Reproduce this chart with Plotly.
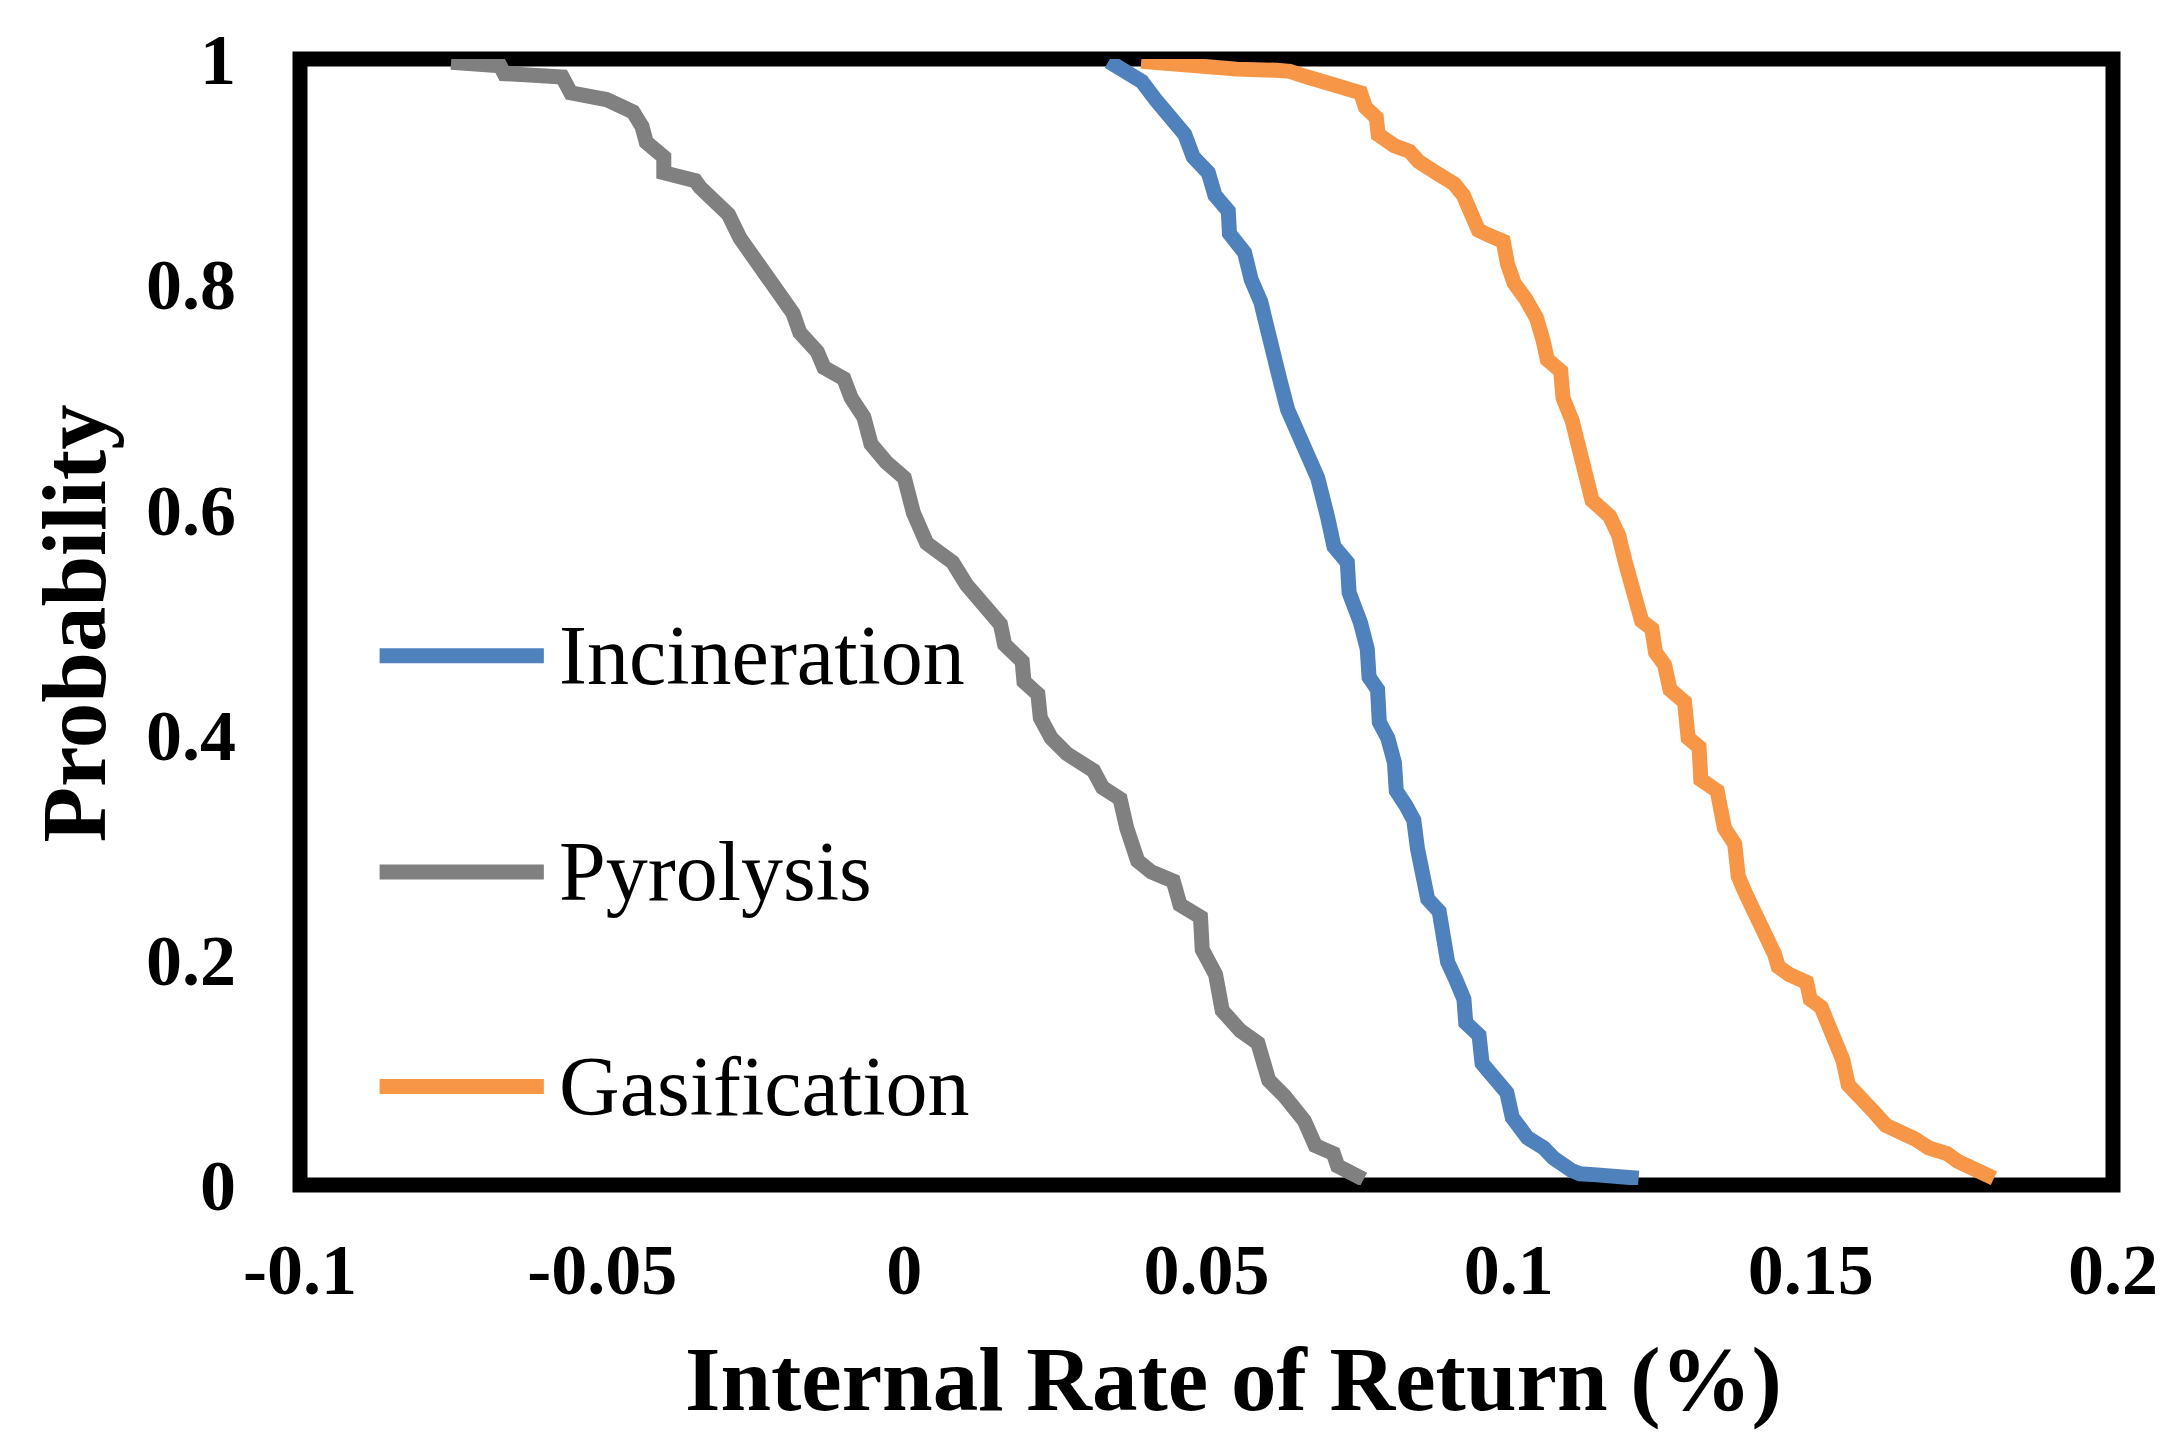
import plotly.graph_objects as go

# ---------------- data ----------------
series_names = ["Incineration", "Pyrolysis", "Gasification"]

incineration_x = [0.0338, 0.0360, 0.0393, 0.0417, 0.0442, 0.0464, 0.0478, 0.0503, 0.0514, 0.0536,
                  0.0538, 0.0563, 0.0574, 0.0590, 0.0599, 0.0613, 0.0621, 0.0634, 0.0651, 0.0668,
                  0.0684, 0.0700, 0.0711, 0.0733, 0.0736, 0.0755, 0.0766, 0.0769, 0.0783, 0.0786,
                  0.0800, 0.0811, 0.0814, 0.0830, 0.0843, 0.0849, 0.0857, 0.0866, 0.0885, 0.0893,
                  0.0899, 0.0912, 0.0926, 0.0929, 0.0951, 0.0956, 0.0976, 0.0997, 0.1006, 0.1031,
                  0.1058, 0.1074, 0.1104, 0.1118, 0.1146, 0.1179, 0.1215]
incineration_y = [0.998, 0.990, 0.980, 0.963, 0.946, 0.933, 0.913, 0.899, 0.879, 0.865,
                  0.845, 0.828, 0.804, 0.784, 0.764, 0.740, 0.716, 0.689, 0.669, 0.652,
                  0.628, 0.594, 0.567, 0.553, 0.526, 0.499, 0.476, 0.451, 0.440, 0.411,
                  0.397, 0.375, 0.350, 0.337, 0.324, 0.299, 0.274, 0.254, 0.243, 0.220,
                  0.198, 0.183, 0.165, 0.144, 0.133, 0.108, 0.095, 0.082, 0.060, 0.042,
                  0.033, 0.024, 0.013, 0.010, 0.009, 0.008, 0.006]

pyrolysis_x = [-0.0750, -0.0669, -0.0662, -0.0566, -0.0552, -0.0493, -0.0449, -0.0434, -0.0427, -0.0398,
               -0.0398, -0.0346, -0.0338, -0.0316, -0.0291, -0.0272, -0.0251, -0.0228, -0.0210, -0.0184,
               -0.0173, -0.0144, -0.0133, -0.0100, -0.0088, -0.0067, -0.0055, -0.0030, 0.0000, 0.0015,
               0.0037, 0.0080, 0.0103, 0.0137, 0.0159, 0.0166, 0.0195, 0.0198, 0.0221, 0.0225,
               0.0243, 0.0269, 0.0313, 0.0328, 0.0357, 0.0368, 0.0386, 0.0409, 0.0445, 0.0456,
               0.0490, 0.0493, 0.0515, 0.0526, 0.0556, 0.0585, 0.0603, 0.0629, 0.0662, 0.0680,
               0.0710, 0.0717, 0.0760]
pyrolysis_y = [0.997, 0.994, 0.987, 0.984, 0.970, 0.964, 0.953, 0.940, 0.926, 0.913,
               0.899, 0.892, 0.886, 0.875, 0.862, 0.841, 0.824, 0.808, 0.791, 0.774,
               0.757, 0.740, 0.726, 0.716, 0.699, 0.682, 0.658, 0.642, 0.628, 0.597,
               0.570, 0.553, 0.533, 0.509, 0.498, 0.480, 0.465, 0.447, 0.436, 0.415,
               0.397, 0.383, 0.368, 0.353, 0.343, 0.317, 0.288, 0.278, 0.270, 0.249,
               0.238, 0.209, 0.187, 0.155, 0.137, 0.126, 0.093, 0.079, 0.057, 0.035,
               0.028, 0.017, 0.005]

gasification_x = [0.0392, 0.0469, 0.0550, 0.0616, 0.0638, 0.0667, 0.0689, 0.0733, 0.0755, 0.0763,
                  0.0781, 0.0784, 0.0811, 0.0836, 0.0851, 0.0880, 0.0910, 0.0925, 0.0936, 0.0950,
                  0.0969, 0.0991, 0.0998, 0.1009, 0.1028, 0.1046, 0.1057, 0.1064, 0.1086, 0.1090,
                  0.1105, 0.1116, 0.1130, 0.1138, 0.1167, 0.1182, 0.1193, 0.1204, 0.1220, 0.1237,
                  0.1243, 0.1258, 0.1267, 0.1291, 0.1297, 0.1315, 0.1318, 0.1345, 0.1354, 0.1357,
                  0.1374, 0.1380, 0.1392, 0.1410, 0.1422, 0.1440, 0.1446, 0.1464, 0.1493, 0.1499,
                  0.1517, 0.1529, 0.1541, 0.1553, 0.1562, 0.1583, 0.1606, 0.1624, 0.1648, 0.1672,
                  0.1695, 0.1725, 0.1743, 0.1767, 0.1785, 0.1803]
gasification_y = [0.998, 0.994, 0.991, 0.990, 0.989, 0.984, 0.980, 0.975, 0.970, 0.957,
                  0.948, 0.933, 0.923, 0.918, 0.909, 0.899, 0.889, 0.879, 0.862, 0.848,
                  0.843, 0.838, 0.818, 0.801, 0.787, 0.770, 0.750, 0.733, 0.723, 0.699,
                  0.679, 0.655, 0.631, 0.608, 0.594, 0.577, 0.553, 0.533, 0.501, 0.494,
                  0.473, 0.462, 0.440, 0.429, 0.397, 0.389, 0.360, 0.350, 0.332, 0.317,
                  0.303, 0.274, 0.259, 0.241, 0.223, 0.205, 0.194, 0.187, 0.180, 0.165,
                  0.158, 0.144, 0.129, 0.111, 0.089, 0.075, 0.064, 0.053, 0.048, 0.041,
                  0.033, 0.028, 0.021, 0.015, 0.010, 0.006]

x_tick_vals = [-0.1, -0.05, 0, 0.05, 0.1, 0.15, 0.2]
x_tick_text = ["-0.1", "-0.05", "0", "0.05", "0.1", "0.15", "0.2"]
y_tick_vals = [0, 0.2, 0.4, 0.6, 0.8, 1]
y_tick_text = ["0", "0.2", "0.4", "0.6", "0.8", "1"]

x_title = "Internal Rate of Return (%)"
y_title = "Probability"

# ---------------- styling ----------------
colors = {"Incineration": "#4F81BD", "Pyrolysis": "#808080", "Gasification": "#F79646"}
FONT = "Liberation Serif"
LINE_W = 15

series = {
    "Incineration": (incineration_x, incineration_y),
    "Pyrolysis": (pyrolysis_x, pyrolysis_y),
    "Gasification": (gasification_x, gasification_y),
}

fig = go.Figure()
for name in series_names:
    xs, ys = series[name]
    fig.add_trace(go.Scatter(
        x=xs, y=ys, mode="lines", name=name,
        line=dict(color=colors[name], width=LINE_W),
        showlegend=False,
    ))

# plot frame (thick black box)
fig.add_shape(type="rect", xref="paper", yref="paper", x0=0, x1=1, y0=0, y1=1,
              line=dict(color="black", width=15), layer="below")

# manual legend (long sample lines, as in the reference)
legend_y = {"Incineration": 0.470, "Pyrolysis": 0.278, "Gasification": 0.0875}
for name in series_names:
    yy = legend_y[name]
    fig.add_shape(type="line", xref="paper", yref="paper", x0=0.0439, x1=0.1345, y0=yy, y1=yy,
                  line=dict(color=colors[name], width=LINE_W))
    fig.add_annotation(xref="paper", yref="paper", x=0.1420, y=yy, text=name,
                       showarrow=False, xanchor="left", yanchor="middle",
                       font=dict(family=FONT, size=84, color="black"))

# axis titles
fig.add_annotation(xref="paper", yref="paper", x=0.515, y=-0.173, text=x_title,
                   showarrow=False, xanchor="center", yanchor="middle",
                   font=dict(family=FONT, size=91, color="black", weight="bold"))
fig.add_annotation(xref="paper", yref="paper", x=-0.1246, y=0.4987, text=y_title,
                   showarrow=False, xanchor="center", yanchor="middle", textangle=-90,
                   font=dict(family=FONT, size=91, color="black", weight="bold"))

fig.update_xaxes(range=[-0.1, 0.2], tickvals=x_tick_vals, ticktext=x_tick_text,
                 showgrid=False, zeroline=False, showline=False, ticks="",
                 ticklabelstandoff=36,
                 tickfont=dict(family=FONT, size=72, color="black", weight="bold"))
fig.update_yaxes(range=[0, 1], tickvals=y_tick_vals, ticktext=y_tick_text,
                 showgrid=False, zeroline=False, showline=False, ticks="",
                 ticklabelstandoff=63,
                 tickfont=dict(family=FONT, size=72, color="black", weight="bold"))

fig.update_layout(
    width=2162, height=1439,
    margin=dict(l=292, r=56, t=42, b=262, pad=0),
    paper_bgcolor="white", plot_bgcolor="white",
    font=dict(family=FONT, color="black"),
)

fig.write_html("out.html")
